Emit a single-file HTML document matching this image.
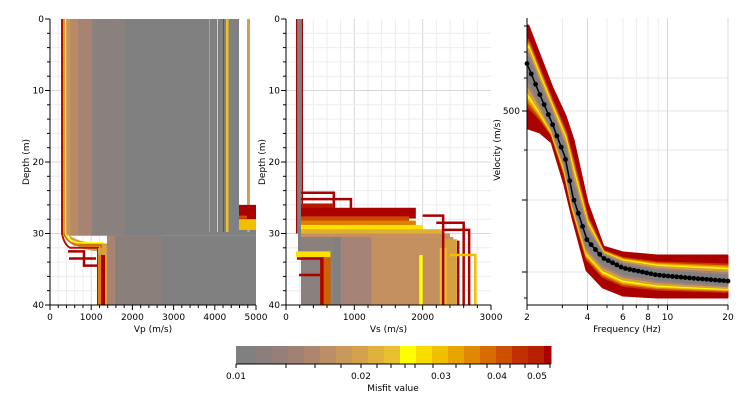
<!DOCTYPE html>
<html><head><meta charset="utf-8"><style>
html,body{margin:0;padding:0;background:#fff;width:748px;height:413px;overflow:hidden}
svg{display:block}
text{font-family:"DejaVu Sans","Liberation Sans",sans-serif;font-size:9px;fill:#000}
</style></head><body>
<svg id="s" width="748" height="413" xmlns="http://www.w3.org/2000/svg"></svg>
<script>
const S=document.getElementById('s');let h='';
function r(x,y,w,ht,c){h+=`<rect x="${x}" y="${y}" width="${w}" height="${ht}" fill="${c}"/>`}
function l(x1,y1,x2,y2,c,w){h+=`<line x1="${x1}" y1="${y1}" x2="${x2}" y2="${y2}" stroke="${c}" stroke-width="${w||1}"/>`}
function t(x,y,s,a,extra){h+=`<text x="${x}" y="${y}" text-anchor="${a||'middle'}" ${extra||''}>${s}</text>`}
const Y0=19,Y1=305,dy=(Y1-Y0)/40;
function depthPanel(X0,X1,vmax,minor,major){
  const sx=(X1-X0)/vmax;
  for(let v=minor;v<vmax;v+=minor){l(X0+v*sx,Y0,X0+v*sx,Y1,v%major==0?'#d8d8d8':'#ececec')}
  for(let d=2;d<40;d+=2){l(X0,Y0+d*dy,X1,Y0+d*dy,d%10==0?'#d8d8d8':'#ececec')}
  return sx;
}
function axes(X0,X1,vmax,minor,major,label){
  const sx=(X1-X0)/vmax;
  l(X0,Y0,X0,Y1,'#000');l(X0,Y1,X1,Y1,'#000');
  for(let d=0;d<=40;d+=2){l(X0-(d%10==0?5:3),Y0+d*dy,X0,Y0+d*dy,'#000');}
  for(let d=0;d<=40;d+=10)t(X0-6,Y0+d*dy+3,d,'end');
  for(let v=0;v<=vmax;v+=minor){l(X0+v*sx,Y1,X0+v*sx,Y1+(v%major==0?5:3),'#000')}
  for(let v=0;v<=vmax;v+=major)t(X0+v*sx,Y1+15,v);
  t((X0+X1)/2,Y1+27,label);
  t(0,0,'Depth (m)','middle',`transform="translate(${X0-21},${(Y0+Y1)/2}) rotate(-90)"`);
}
const yd=d=>Y0+d*dy;
/* Panel 1 Vp */
depthPanel(50,256,5000,200,1000);
// lower region first
r(107,yd(30.3),149,Y1-yd(30.3),'#808080');r(107,yd(30.3),55,Y1-yd(30.3),'#8b7f7c');r(107,yd(30.3),8,Y1-yd(30.3),'#a88272');
// upper region
r(66,Y0,173,yd(30.3)-Y0,'#c4955e');
r(70,Y0,8,yd(30.3)-Y0,'#b88a66');
r(78,Y0,14,yd(30.3)-Y0,'#a88272');
r(92,Y0,33,yd(30.3)-Y0,'#8a807d');
r(125,Y0,131,yd(30.3)-Y0,'#808080');
r(239,Y0,17,yd(26)-Y0,'#fff');
[[209,'#d6a040',1],[217,'#ffe000',1],[223,'#c03000',1],[226,'#f0c020',2.5],[247,'#d0a050',3]].forEach(a=>r(a[0],Y0,a[2],yd(29.8)-Y0,a[1]));
r(239,yd(26),17,yd(28)-yd(26),'#aa0000');r(239,yd(28),17,yd(29.5)-yd(28),'#f0c000');r(239,yd(27.5),8,3,'#d05000');
// stair transition
h+=`<path d="M66 ${yd(29.5)} Q70 ${yd(31.2)} 100 ${yd(31.4)} L107 ${yd(31.4)} L107 ${yd(32.5)} L98 ${yd(32.5)} Q80 ${yd(32.3)} 72 ${yd(31.2)} Z" fill="#d6a040"/>`;
h+=`<path d="M62 ${Y0} V${yd(30)} Q64 ${yd(31.5)} 70 ${yd(32)} H98 V${Y1}" stroke="#b01500" stroke-width="2" fill="none"/>`;
h+=`<path d="M64 ${Y0} V${yd(30)} Q66 ${yd(31)} 75 ${yd(31.6)} H101 V${Y1}" stroke="#d86000" stroke-width="1.5" fill="none"/>`;
h+=`<path d="M65.5 ${Y0} V${yd(30)} Q68 ${yd(31)} 78 ${yd(31.3)} H104" stroke="#ffff00" stroke-width="1.3" fill="none"/>`;
r(98,yd(32),9,Y1-yd(32),'#d6a040');
r(98,yd(33),3,Y1-yd(33),'#e08000');r(101,yd(33),4,Y1-yd(33),'#aa0000');
h+=`<path d="M68 ${yd(32.5)} H84 V${yd(34.5)} H97 M69 ${yd(33.5)} H96" stroke="#aa0000" stroke-width="2.5" fill="none"/>`;
axes(50,256,5000,200,1000,'Vp (m/s)');
/* Panel 2 Vs */
const sx2=depthPanel(286,491,3000,200,1000);
const xs=v=>286+v*sx2;
r(296,Y0,7,yd(30)-Y0,'#aa0000');r(297,Y0,5,yd(30)-Y0,'#d06000');r(298,Y0,3,yd(33)-Y0,'#808080');
h+=`<path d="M301 ${yd(24.3)} H${xs(700)} V${yd(26.5)} M301 ${yd(25.2)} H${xs(950)} V${yd(27)}" stroke="#aa0000" stroke-width="2.5" fill="none"/>`;
const bands=[[25.8,'#b81800',680,0.7],[26.4,'#aa0000',1900,1.2],[27.6,'#cc4a00',1800,0.6],[28.2,'#e08000',1900,0.6],[28.8,'#ffe000',2000,0.6],[29.4,'#e0b030',2300,0.6],[30,'#c49060',2400,0.6]];
bands.forEach(b=>r(301,yd(b[0]),xs(b[2])-301,yd(b[0]+b[3]+0.3)-yd(b[0]),b[1]));
r(301,yd(30.5),xs(2450)-301,Y1-yd(30.5),'#c49060');
r(xs(2300),yd(30.8),xs(2500)-xs(2300),Y1-yd(30.8),'#d6a040');
r(301,yd(30.5),xs(1250)-301,Y1-yd(30.5),'#a58477');
r(301,yd(30.5),xs(800)-301,Y1-yd(30.5),'#8a807d');
r(xs(700),yd(30.5),xs(800)-xs(700),Y1-yd(30.5),'#808080');
r(xs(1950),yd(33),xs(2000)-xs(1950),Y1-yd(33),'#ffff00');
r(xs(2250),yd(32),xs(2350)-xs(2250),Y1-yd(32),'#e8c030');
r(xs(500),yd(33),xs(650)-xs(500),Y1-yd(33),'#d06000');r(xs(500),yd(33),xs(550)-xs(500),Y1-yd(33),'#aa0000');
r(296,yd(32.5),xs(650)-296,yd(33.3)-yd(32.5),'#ffe000');
h+=`<path d="M297 ${yd(33.5)} H${xs(520)} M299 ${yd(35.8)} H${xs(500)} M${xs(2000)} ${yd(27.5)} H${xs(2300)} V${Y1} M${xs(2200)} ${yd(28.5)} H${xs(2600)} V${Y1} M${xs(2300)} ${yd(29.5)} H${xs(2680)} V${Y1} M${xs(2520)} ${yd(31)} V${Y1}" stroke="#aa0000" stroke-width="2.5" fill="none"/>`;
h+=`<path d="M${xs(2400)} ${yd(33)} H${xs(2770)} V${Y1}" stroke="#f0c000" stroke-width="2.5" fill="none"/>`;
axes(286,491,3000,200,1000,'Vs (m/s)');
/* Panel 3 dispersion */
const FX0=527,FX1=728,fx=f=>FX0+(FX1-FX0)*Math.log10(f/2);
[78,111,150,200,272].forEach(y=>l(FX0,y,FX1,y,'#e4e4e4'));
[3,4,5,6,7,8,9,10,20].forEach(f=>l(fx(f),18,fx(f),305,f==10||f==20||f==4?'#d8d8d8':'#ececec'));
const X=[528,540,552,565,573,587,603,623,657,690,727];
const C=[66,95,123,157,197,240,258,268,275,278,281];
const U=[26,57,88,116,140,203,247,253,256,256,256];
const L=[128,132,142,185,218,270,287,295,297,297,297];
function band(f,c){let p='M';X.forEach((x,i)=>p+=`${x} ${C[i]+(U[i]-C[i])*f} L`);for(let i=X.length-1;i>=0;i--)p+=`${X[i]} ${C[i]+(L[i]-C[i])*f} ${i?'L':''}`;h+=`<path d="${p}Z" fill="${c}" stroke="${c}" stroke-width="3" stroke-linejoin="round"/>`}
band(1,'#aa0000');band(0.64,'#c83800');band(0.57,'#e08000');band(0.51,'#f0c000');band(0.46,'#ffff00');band(0.41,'#d6a040');band(0.3,'#a88272');band(0.2,'#808080');
let p='M';X.forEach((x,i)=>p+=`${x} ${C[i]} ${i<X.length-1?'L':''}`);
h+=`<path d="${p}" stroke="#000" stroke-width="1.5" fill="none"/>`;
for(let i=0;i<48;i++){const f=2*Math.pow(10,i/47);const x=fx(f);let k=0;while(k<X.length-2&&X[k+1]<x)k++;const y=C[k]+(C[k+1]-C[k])*(x-X[k])/(X[k+1]-X[k]);h+=`<circle cx="${x}" cy="${y}" r="2.4" fill="#000"/>`}
l(FX0,18,FX0,305,'#000');l(FX0,305,FX1,305,'#000');
[26,52,78,111,150,200,272,298].forEach(y=>l(FX0-(y==111||y==200||y==272?5:3),y,FX0,y,'#000'));
t(FX0-7,114,'500','end');
[2,3,4,5,6,7,8,9,10,20].forEach(f=>l(fx(f),305,fx(f),305+([2,4,6,8,10,20].includes(f)?5:3),'#000'));
[2,4,6,8,10,20].forEach(f=>t(fx(f),320,f));
t(627,332,'Frequency (Hz)');
t(0,0,'Velocity (m/s)','middle',`transform="translate(500,150) rotate(-90)"`);
/* colorbar */
const cbcols=['#808080','#8a7f7c','#958079','#a08275','#ae866e','#bb8e66','#c8985a','#d4a24c','#deb03c','#e8c030','#ffff00','#f8dc00','#f0c000','#e8a400','#e08800','#d86c00','#cc5000','#c03000','#b82000','#aa0000'];
const ww=[20,16,16,16,16,16,16,16,16,16,16,16,16,16,16,16,16,16,16,7];
const total=315;let sum=ww.reduce((a,b)=>a+b,0);let acc=236;
ww.forEach((w,i)=>{const W=w*total/sum;r(acc,346,W+0.5,18,cbcols[i]);acc+=W});
l(236,364,551,364,'#000');
[236,286,315,341,361,377,391,405,415,433,456,470,487,500,510,525,538,550].forEach(x=>l(x,364,x,368,'#000'));
t(236,379,'0.01');t(361,379,'0.02');t(441,379,'0.03');t(497,379,'0.04');t(537,379,'0.05');
t(393,391,'Misfit value');
S.innerHTML=h;
</script>
</body></html>
